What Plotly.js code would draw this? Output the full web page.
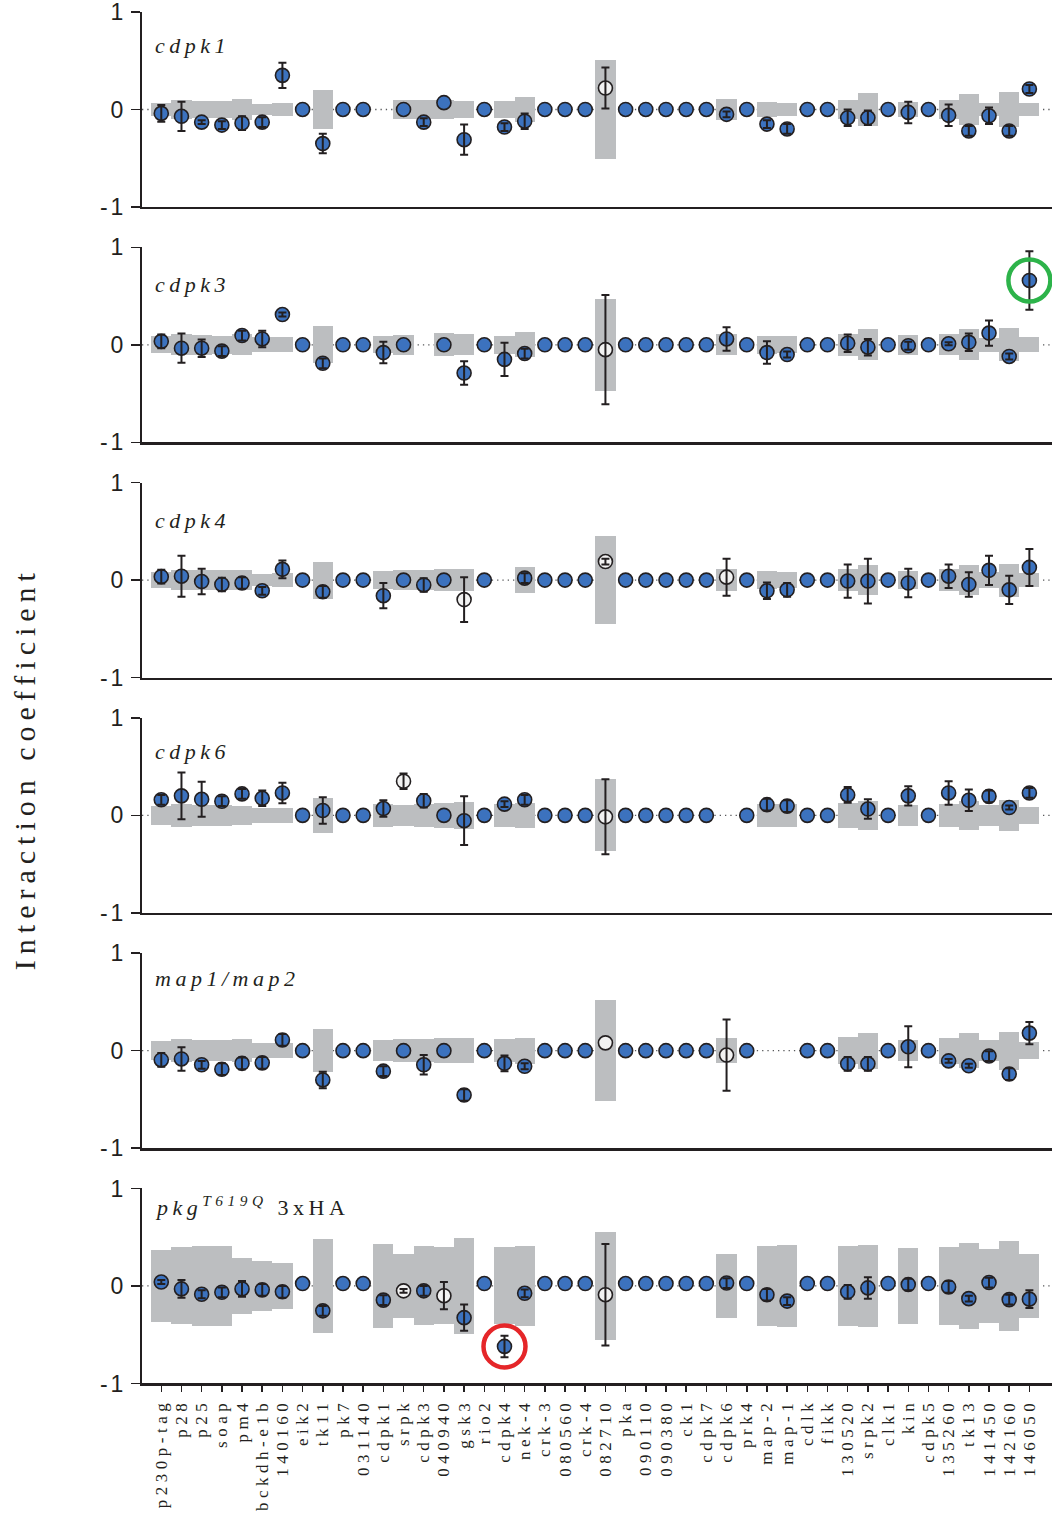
<!DOCTYPE html>
<html><head><meta charset="utf-8">
<script src="https://cdn.plot.ly/plotly-3.0.1.min.js"></script>
<style>
html,body{margin:0;padding:0;background:#fff;}
#chart{width:1052px;height:1514px;}
.x6tick text{letter-spacing:4.5px;}
.ytick text,.y2tick text,.y3tick text,.y4tick text,.y5tick text,.y6tick text{letter-spacing:3px;}
.annotation-text{letter-spacing:4.5px;}
.annotation[data-index="6"] .annotation-text{letter-spacing:6px;}
</style></head><body><div id="chart"></div>
<script>
const categories = ['p230p-tag','p28','p25','soap','pm4','bckdh-e1b','140160','eik2','tk11','pk7','031140','cdpk1','srpk','cdpk3','040940','gsk3','rio2','cdpk4','nek-4','crk-3','080560','crk-4','082710','pka','090110','090380','ck1','cdpk7','cdpk6','prk4','map-2','map-1','cdlk','fikk','130520','srpk2','clk1','kin','cdpk5','135260','tk13','141450','142160','146050'];
const yTickValues = [-1, 0, 1];
const yTickText = ['-1', '0', '1'];
const panelLabels = ['<i>cdpk1</i>','<i>cdpk3</i>','<i>cdpk4</i>','<i>cdpk6</i>','<i>map1/map2</i>','<i>pkg</i><sup><i>T619Q</i></sup> 3xHA'];
const yTitle = 'Interaction coefficient';

// cdpk1 panel
const cdpk1Value = [-0.04,-0.07,-0.13,-0.16,-0.14,-0.13,0.35,0,-0.35,0,0,null,0,-0.13,0.07,-0.31,0,-0.18,-0.12,0,0,0,0.22,0,0,0,0,0,-0.05,0,-0.15,-0.2,0,0,-0.085,-0.085,0,-0.03,0,-0.06,-0.22,-0.065,-0.22,0.21];
const cdpk1Error = [0.085,0.15,0.02,0.04,0.07,0.05,0.13,0,0.10,0,0,0,0,0.04,0,0.155,0,0.04,0.08,0,0,0,0.21,0,0,0,0,0,0.03,0,0.04,0.05,0,0,0.085,0.075,0,0.11,0,0.11,0.05,0.085,0.05,0.04];
const cdpk1Band = [0.07,0.10,0.09,0.09,0.11,0.06,0.07,0,0.20,0,0,0,0.10,0.095,0.10,0.09,0,0.09,0.13,0,0,0,0.505,0,0,0,0,0,0.11,0,0.08,0.07,0,0,0.10,0.17,0,0.08,0,0.10,0.16,0.07,0.18,0.07];
const cdpk1Open = ['082710'];

// cdpk3 panel
const cdpk3Value = [0.035,-0.035,-0.035,-0.065,0.095,0.06,0.31,0,-0.19,0,0,-0.08,0,null,0,-0.29,0,-0.15,-0.09,0,0,0,-0.05,0,0,0,0,0,0.06,0,-0.08,-0.10,0,0,0.015,-0.025,0,-0.01,0,0.01,0.025,0.12,-0.12,0.66];
const cdpk3Error = [0.07,0.15,0.09,0.05,0.05,0.085,0.02,0,0.05,0,0,0.11,0,0,0,0.12,0,0.17,0.05,0,0,0,0.56,0,0,0,0,0,0.12,0,0.115,0.03,0,0,0.09,0.085,0,0.04,0,0.015,0.09,0.13,0.03,0.30];
const cdpk3Band = [0.085,0.11,0.10,0.09,0.11,0.075,0.075,0,0.19,0,0,0.085,0.10,0,0.12,0.11,0,0.095,0.13,0,0,0,0.47,0,0,0,0,0,0.11,0,0.09,0.085,0,0,0.115,0.16,0,0.10,0,0.11,0.16,0.07,0.17,0.075];
const cdpk3Open = ['082710'];

// cdpk4 panel
const cdpk4Value = [0.035,0.04,-0.015,-0.045,-0.03,-0.11,0.11,0,-0.12,0,0,-0.16,0,-0.05,0,-0.20,0,null,0.02,0,0,0,0.19,0,0,0,0,0,0.03,0,-0.11,-0.10,0,0,-0.01,-0.01,0,-0.03,0,0.04,-0.045,0.10,-0.10,0.13];
const cdpk4Error = [0.07,0.21,0.13,0.07,0.06,0.04,0.09,0,0.06,0,0,0.13,0,0.07,0,0.23,0,0,0.05,0,0,0,0.03,0,0,0,0,0,0.19,0,0.085,0.07,0,0,0.17,0.23,0,0.145,0,0.12,0.125,0.15,0.145,0.19];
const cdpk4Band = [0.08,0.105,0.10,0.10,0.105,0.06,0.07,0,0.19,0,0,0.09,0.10,0.10,0.115,0.11,0,0,0.13,0,0,0,0.45,0,0,0,0,0,0.11,0,0.09,0.08,0,0,0.115,0.155,0,0.09,0,0.11,0.155,0.08,0.17,0.075];
const cdpk4Open = ['gsk3','082710','cdpk6'];

// cdpk6 panel
const cdpk6Value = [0.16,0.20,0.165,0.145,0.22,0.175,0.23,0,0.05,0,0,0.07,0.35,0.15,0,-0.055,0,0.115,0.16,0,0,0,-0.015,0,0,0,0,0,null,0,0.11,0.095,0,0,0.21,0.065,0,0.20,0,0.23,0.155,0.195,0.08,0.23];
const cdpk6Error = [0.05,0.24,0.18,0.05,0.05,0.08,0.105,0,0.135,0,0,0.085,0.08,0.07,0,0.25,0,0.03,0.05,0,0,0,0.385,0,0,0,0,0,0,0,0.06,0.06,0,0,0.08,0.10,0,0.10,0,0.12,0.11,0.06,0.02,0.05];
const cdpk6Band = [0.10,0.115,0.11,0.11,0.10,0.075,0.075,0,0.18,0,0,0.115,0.105,0.12,0.13,0.14,0,0.115,0.13,0,0,0,0.37,0,0,0,0,0,0,0,0.115,0.115,0,0,0.13,0.145,0,0.11,0,0.12,0.15,0.105,0.16,0.09];
const cdpk6Open = ['srpk','082710'];

// map1/map2 panel
const mapValue = [-0.095,-0.085,-0.145,-0.19,-0.13,-0.125,0.11,0,-0.30,0,0,-0.21,0,-0.145,0,-0.455,0,-0.13,-0.16,0,0,0,0.08,0,0,0,0,0,-0.045,0,null,null,0,0,-0.135,-0.135,0,0.04,0,-0.105,-0.155,-0.055,-0.24,0.18];
const mapError = [0.07,0.12,0.04,0.06,0.06,0.06,0.06,0,0.085,0,0,0.05,0,0.10,0,0.06,0,0.08,0.03,0,0,0,0,0,0,0,0,0,0.365,0,0,0,0,0,0.07,0.07,0,0.21,0,0.02,0.02,0.05,0.06,0.115];
const mapBand = [0.095,0.115,0.11,0.11,0.12,0.075,0.08,0,0.22,0,0,0.105,0.12,0.115,0.13,0.13,0,0.115,0.135,0,0,0,0.515,0,0,0,0,0,0.13,0,0,0,0,0,0.14,0.185,0,0.105,0,0.135,0.18,0.105,0.195,0.085];
const mapOpen = ['082710','cdpk6'];

// pkg T619Q 3xHA panel
const pkgValue = [0.04,-0.03,-0.085,-0.065,-0.03,-0.04,-0.06,0.025,-0.255,0.025,0.025,-0.145,-0.05,-0.05,-0.10,-0.325,0.025,-0.62,-0.075,0.025,0.025,0.025,-0.09,0.025,0.025,0.025,0.025,0.025,0.03,0.025,-0.09,-0.155,0.025,0.025,-0.06,-0.02,0.025,0.015,0.025,-0.01,-0.13,0.035,-0.14,-0.135];
const pkgError = [0.02,0.09,0.04,0.05,0.08,0.06,0.06,0,0.05,0,0,0.05,0.02,0.05,0.14,0.135,0,0.11,0.04,0,0,0,0.52,0,0,0,0,0,0.05,0,0.06,0.04,0,0,0.07,0.11,0,0.06,0,0.06,0.03,0.05,0.05,0.09];
const pkgBand = [0.37,0.395,0.41,0.41,0.285,0.26,0.235,0,0.485,0,0,0.435,0.33,0.405,0.395,0.49,0,0.395,0.41,0,0,0,0.555,0,0,0,0,0,0.33,0,0.41,0.42,0,0,0.41,0.42,0,0.39,0,0.40,0.44,0.38,0.46,0.33];
const pkgOpen = ['srpk','040940','082710'];

const panels = [
  {value: cdpk1Value, error: cdpk1Error, band: cdpk1Band, open: cdpk1Open},
  {value: cdpk3Value, error: cdpk3Error, band: cdpk3Band, open: cdpk3Open},
  {value: cdpk4Value, error: cdpk4Error, band: cdpk4Band, open: cdpk4Open},
  {value: cdpk6Value, error: cdpk6Error, band: cdpk6Band, open: cdpk6Open},
  {value: mapValue, error: mapError, band: mapBand, open: mapOpen},
  {value: pkgValue, error: pkgError, band: pkgBand, open: pkgOpen}
];
const highlights = [
  {panel: 1, category: '146050', color: '#2db34a'},
  {panel: 5, category: 'cdpk4', color: '#e52629'}
];

const INK = '#231f20';
const BLUE = '#3c72be';
const OPEN = '#f2f2f2';
const GREY = '#bcbec0';
const labelY = [0.827, 0.809, 0.807, 0.83, 0.871, 0.91];

const traces = [];
const layout = {
  width: 1052, height: 1514,
  margin: {l: 142, r: 0, t: 12, b: 130},
  paper_bgcolor: '#ffffff', plot_bgcolor: 'rgba(0,0,0,0)',
  showlegend: false, bargap: 0, barmode: 'overlay',
  font: {family: 'Liberation Serif', color: INK},
  shapes: [], annotations: []
};

panels.forEach((p, k) => {
  const s = k === 0 ? '' : String(k + 1);
  const last = k === panels.length - 1;
  const top = 1 - k * 0.1715;
  const bottom = top - 0.1421;
  layout['xaxis' + s] = {
    domain: [0, 1], anchor: 'y' + s, type: 'category',
    categoryorder: 'array', categoryarray: categories,
    range: [-0.955, 44.12],
    showline: true, linecolor: INK, linewidth: 2.5,
    ticks: last ? 'outside' : '', ticklen: 6, tickwidth: 1.5, tickcolor: INK,
    showticklabels: last, tickangle: -90, ticklabeloverflow: 'allow',
    tickfont: {family: 'Liberation Serif', size: 17, color: INK},
    showgrid: false, zeroline: false, fixedrange: true
  };
  layout['yaxis' + s] = {
    domain: [Math.max(0, bottom), Math.min(1, top)], anchor: 'x' + s,
    range: [-1, 1], tickmode: 'array', tickvals: yTickValues, ticktext: yTickText,
    ticks: 'outside', ticklen: 9, tickwidth: 1.5, tickcolor: INK,
    ticklabeloverflow: 'allow',
    showline: true, linecolor: INK, linewidth: 2,
    tickfont: {family: 'Liberation Sans', size: 23, color: INK},
    showgrid: false, zeroline: false, fixedrange: true
  };
  const xa = 'x' + s, ya = 'y' + s;
  traces.push({
    type: 'bar', x: categories,
    y: p.band.map(b => b > 0 ? 2 * b : null),
    base: p.band.map(b => b > 0 ? -b : null),
    width: 1, marker: {color: GREY, line: {width: 0}},
    xaxis: xa, yaxis: ya, hoverinfo: 'skip'
  });
  traces.push({
    type: 'scatter', mode: 'markers', x: categories, y: p.value,
    marker: {size: 14, color: categories.map(c => p.open.includes(c) ? OPEN : BLUE),
             line: {width: 1.6, color: INK}},
    xaxis: xa, yaxis: ya, cliponaxis: false
  });
  traces.push({
    type: 'scatter', mode: 'markers', x: categories, y: p.value,
    marker: {size: 14, opacity: 0},
    error_y: {type: 'data', array: p.error.map(e => e > 0 ? e : NaN),
              visible: true, color: INK, thickness: 2, width: 4},
    xaxis: xa, yaxis: ya, hoverinfo: 'skip', cliponaxis: false
  });
  layout.shapes.push({
    type: 'line', xref: 'paper', x0: 0, x1: 1, yref: ya, y0: 0, y1: 0,
    layer: 'below', line: {color: '#58595b', width: 1.3, dash: '1.3px,4px'}
  });
  layout.annotations.push({
    xref: 'paper', x: 0.0125, yref: ya + ' domain', y: labelY[k],
    xanchor: 'left', yanchor: 'middle', showarrow: false,
    text: panelLabels[k],
    font: {family: 'Liberation Serif', size: 22, color: INK}
  });
});

layout.annotations.push({
  xref: 'paper', yref: 'paper', x: -0.1286, y: 0.449,
  xanchor: 'center', yanchor: 'middle', textangle: -90, showarrow: false,
  text: yTitle, font: {family: 'Liberation Serif', size: 30, color: INK}
});

highlights.forEach(h => {
  const s = h.panel === 0 ? '' : String(h.panel + 1);
  const idx = categories.indexOf(h.category);
  layout.shapes.push({
    type: 'circle', xref: 'x' + s, yref: 'y' + s,
    xsizemode: 'pixel', ysizemode: 'pixel',
    xanchor: idx, yanchor: panels[h.panel].value[idx],
    x0: -21, x1: 21, y0: -21, y1: 21,
    layer: 'above', line: {color: h.color, width: 4.5}
  });
});

Plotly.newPlot('chart', traces, layout, {displayModeBar: false, staticPlot: true});
</script></body></html>
